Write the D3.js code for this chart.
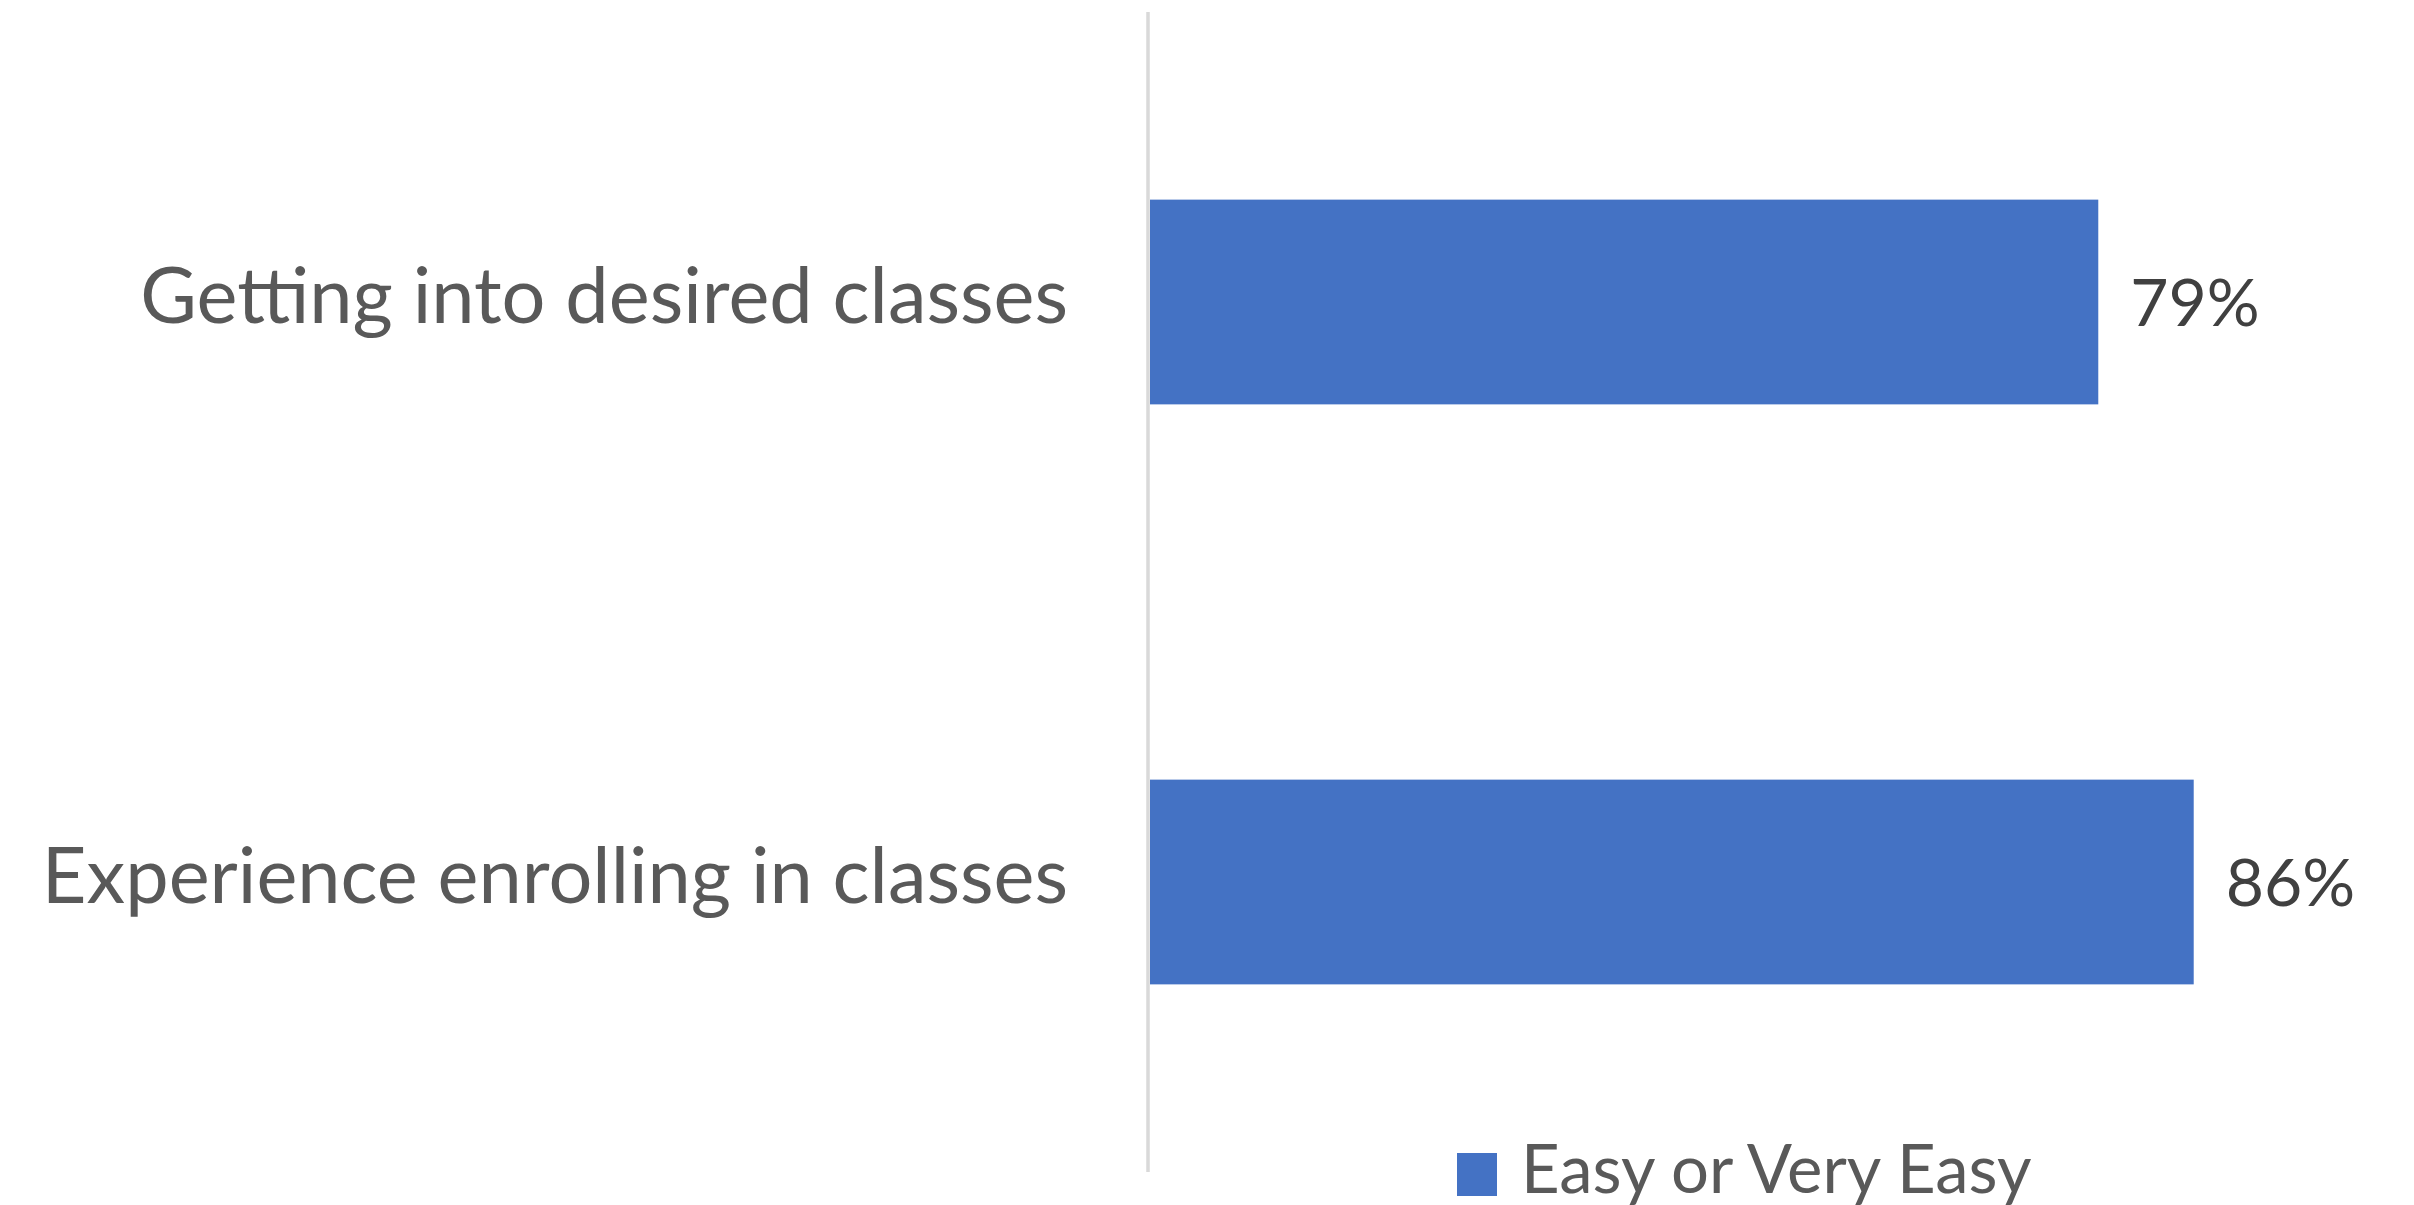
<!DOCTYPE html>
<html>
<head>
<meta charset="utf-8">
<script src="https://cdn.jsdelivr.net/npm/d3@7"></script>
<style>
  body { margin: 0; background: #fff; }
  text { font-family: Lato, "Open Sans", sans-serif; }
</style>
</head>
<body>
<div id="chart"></div>
<script>
// Data
//-----
var categories = ["Getting into desired classes", "Experience enrolling in classes"];
var values = [0.785, 0.864];
var valueLabels = ["79%", "86%"];
var seriesName = "Easy or Very Easy";

// Sizing parameters
//------------------
var svgWidth = 2414;
var svgHeight = 1205;

var plot = { left: 1150, top: 12, bottom: 1172 };

var svg = d3.select("#chart")
  .append("svg")
  .attr("width", svgWidth)
  .attr("height", svgHeight);

// Scales
var yScale = d3.scaleBand()
  .domain(categories)
  .range([plot.top, plot.bottom])
  .paddingInner(0.647)
  .paddingOuter(0.3235);

var xScale = d3.scaleLinear()
  .domain([0, 1])
  .range([plot.left, plot.left + 1208]);

// Bars
svg.append("g")
  .selectAll("rect")
  .data(values)
  .enter()
  .append("rect")
  .attr("x", xScale(0))
  .attr("y", (d, i) => yScale(categories[i]))
  .attr("width", d => xScale(d) - xScale(0))
  .attr("height", yScale.bandwidth())
  .attr("fill", "#4472C4");

// Vertical axis line
svg.append("line")
  .attr("x1", xScale(0) - 2)
  .attr("x2", xScale(0) - 2)
  .attr("y1", plot.top)
  .attr("y2", plot.bottom)
  .attr("stroke", "#d9d9d9")
  .attr("stroke-width", 3.5);

// Category labels
svg.append("g")
  .selectAll("text")
  .data(categories)
  .enter()
  .append("text")
  .attr("x", xScale(0) - 82)
  .attr("y", d => yScale(d) + yScale.bandwidth() / 2 + 21)
  .attr("text-anchor", "end")
  .attr("font-size", 77.5)
  .attr("fill", "#595959")
  .text(d => d);

// Data labels
svg.append("g")
  .selectAll("text")
  .data(values)
  .enter()
  .append("text")
  .attr("x", d => xScale(d) + 32)
  .attr("y", (d, i) => yScale(categories[i]) + yScale.bandwidth() / 2 + 24)
  .attr("font-size", 66)
  .attr("fill", "#404040")
  .text((d, i) => valueLabels[i]);

// Legend
var legend = svg.append("g")
  .attr("transform", "translate(1457, 1153)");

legend.append("rect")
  .attr("width", 40)
  .attr("height", 43)
  .attr("fill", "#4472C4");

legend.append("text")
  .attr("x", 64)
  .attr("y", 40)
  .attr("font-size", 67)
  .attr("fill", "#595959")
  .text(seriesName);
</script>
</body>
</html>
